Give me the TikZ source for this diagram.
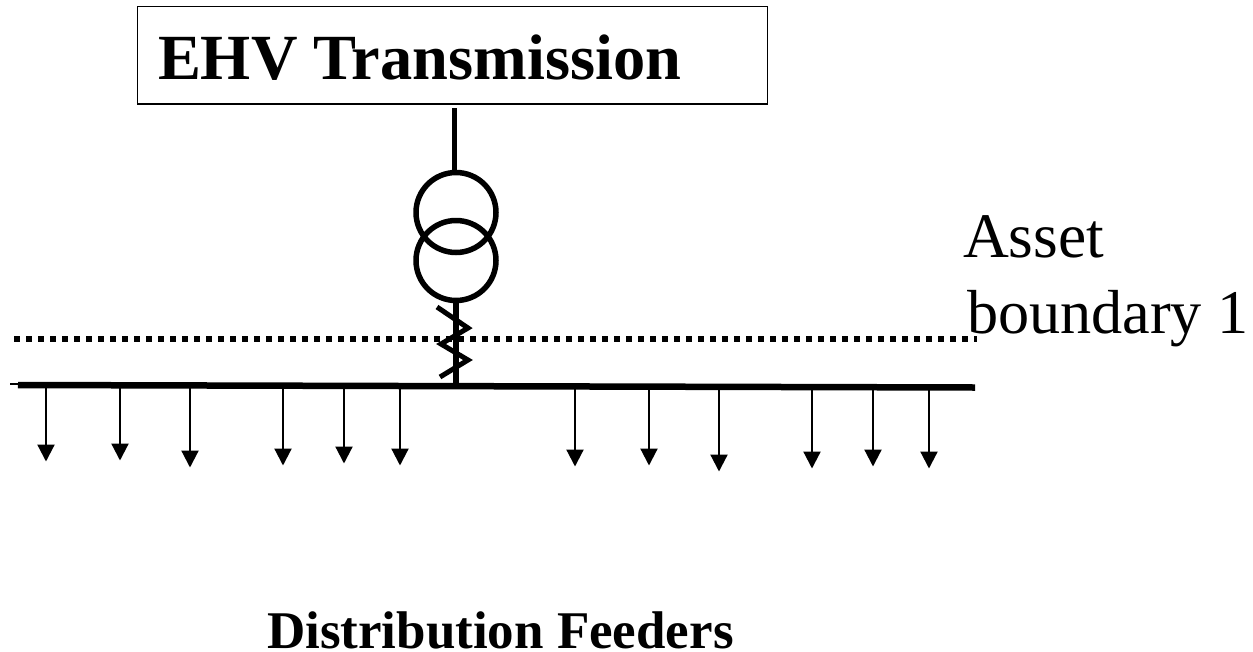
\documentclass[tikz,border=0pt]{standalone}
\usepackage{fontspec}
\setmainfont{Liberation Serif}
\usetikzlibrary{arrows.meta}
\tikzset{
  boxstyle/.style={draw,line width=1.8pt,minimum width=630pt,minimum height=97.5pt,inner sep=0pt,anchor=north west},
  coil/.style={circle,draw,line width=5.5pt,minimum size=80pt,inner sep=0pt},
  heavy/.style={line width=5.5pt},
  bus/.style={line width=6.5pt},
  feedertip/.style={-{Triangle[length=17pt,width=17pt]},line width=2.2pt},
  lab/.style={anchor=base west,inner sep=0pt,outer sep=0pt},
}
\begin{document}
\begin{tikzpicture}[x=1pt,y=-1pt]
\useasboundingbox (0,0) rectangle (1253,651);
\node[boxstyle] (box) at (136.5,5.5) {};
\node[lab,font=\bfseries\fontsize{64.4}{64.4}\selectfont] (title) at (158,79) {EHV Transmission};
\node[coil] (c1) at (456,212.5) {};
\node[coil] (c2) at (456,260.5) {};
\coordinate (top) at (454.3,108);
\coordinate (c1top) at (454.3,171);
\draw[heavy] (top) -- (c1top);
\coordinate (c2bot) at (456,302);
\coordinate (busj) at (456,385);
\draw[heavy] (c2bot) -- (busj);
\coordinate (z1) at (437,307);
\coordinate (z2) at (468,328);
\coordinate (z3) at (441,344);
\coordinate (z4) at (468,360);
\coordinate (z5) at (440,377);
\draw[line width=5pt] (z1) -- (z2) -- (z3) -- (z4) -- (z5);
\coordinate (dl) at (14,339);
\coordinate (dr) at (977,339);
\draw[line width=6pt,dash pattern=on 6pt off 6pt] (dl) -- (dr);
\coordinate (bl) at (18,385);
\coordinate (br) at (975,387.5);
\draw[bus] (bl) -- (br);
\coordinate (stub) at (10,383.5);
\coordinate (stubr) at (18,383.5);
\draw[line width=2pt] (stub) -- (stubr);
\foreach \n/\x/\ya/\yb in {a/46/386/461.5,b/120/386/460.5,c/190/386/467.5,d/283/386/465.5,e/344/386/463.5,f/400/386/465.5,g/575/386/466.5,h/649/386/465.5,i/719/386/471.5,j/812/387/468.5,k/873/387/466.5,l/929/387/468.5}{
  \coordinate (s\n) at (\x,\ya);
  \coordinate (t\n) at (\x,\yb);
  \draw[feedertip] (s\n) -- (t\n);
}
\node[lab,font=\fontsize{63.5}{63.5}\selectfont] (a1) at (963,257) {Asset};
\node[lab,font=\fontsize{62.2}{62.2}\selectfont] (a2) at (967,333) {boundary 1};
\node[lab,font=\bfseries\fontsize{53}{53}\selectfont] (df) at (267,648) {Distribution Feeders};
\end{tikzpicture}
\end{document}
